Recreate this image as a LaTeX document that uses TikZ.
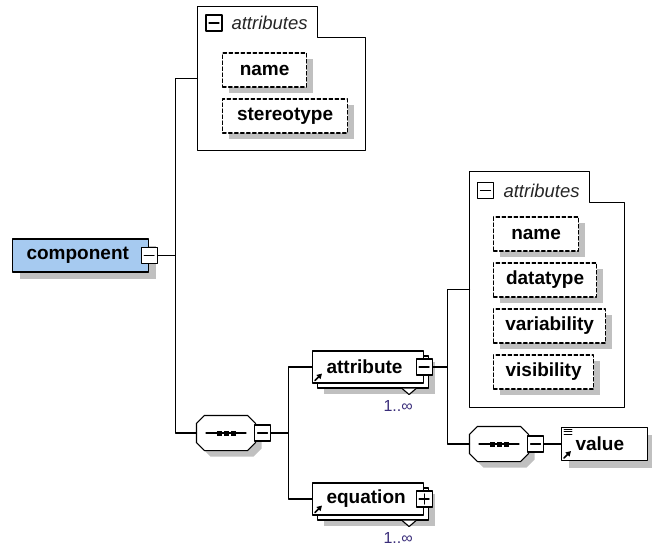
\documentclass[tikz,border=0pt]{standalone}
\usepackage{fontspec}
\setmainfont{Liberation Sans}
\usetikzlibrary{shadows,arrows.meta}
\definecolor{elemblue}{RGB}{166,202,240}
\definecolor{shade}{RGB}{192,192,192}
\definecolor{occur}{RGB}{58,45,122}

\begin{document}
\begin{tikzpicture}[x=1pt, y=-1pt, line cap=round, line join=round, line width=1.1pt,
    lbl/.style={font=\fontsize{19}{22}\selectfont\bfseries},
    elem/.style={lbl, draw, fill=white, anchor=west, minimum height=33pt, inner xsep=14pt, align=left,
      drop shadow={shadow xshift=7pt, shadow yshift=-7pt, fill=shade, opacity=1}},
    refelem/.style={lbl, draw, fill=white, anchor=west, minimum height=32pt, inner xsep=14pt, align=left,
      general shadow={shadow xshift=11pt, shadow yshift=-11pt, fill=shade, opacity=1},
      general shadow={shadow xshift=5pt, shadow yshift=-5pt, fill=white, draw=black, opacity=1}},
    att/.style={lbl, draw, line width=1.2pt, dash pattern=on 3.5pt off 2.5pt, fill=white, anchor=west, minimum height=34pt,
      drop shadow={shadow xshift=6pt, shadow yshift=-6pt, fill=shade, opacity=1}},
    seqbox/.style={minimum width=58pt, minimum height=34pt, inner sep=0pt},
    grp/.style={inner sep=0pt},
    togbox/.style={draw, fill=white, minimum size=16pt, inner sep=0pt},
    minus/.style={togbox, path picture={\draw ([xshift=3pt]path picture bounding box.west) -- ([xshift=-3pt]path picture bounding box.east);}},
    plus/.style={togbox, path picture={\draw ([xshift=3pt]path picture bounding box.west) -- ([xshift=-3pt]path picture bounding box.east)
      ([yshift=-3pt]path picture bounding box.north) -- ([yshift=3pt]path picture bounding box.south);}},
    head/.style={font=\fontsize{18.5}{22}\selectfont\itshape, text=black!85, anchor=west, inner sep=0pt},
    occ/.style={font=\fontsize{16}{18}\selectfont, text=occur, inner sep=0pt}]
  \useasboundingbox (0,0) rectangle (652,545);

  \node[elem, fill=elemblue, text width=108pt] (comp) at (12,255.5) {component};
  \node[minus] (compT) at (comp.east) {};

  \node[grp, minimum width=167pt, minimum height=143pt] (attrsA) at (281.5,78.5) {};
  \draw (attrsA.south west) -- (attrsA.north west) -- ++(120,0) -- ++(0,31) -| (attrsA.south east) -- cycle;
  \node[minus] (tabA) at (214,23) {};
  \node[head] (headA) at (231,23) {attributes};
  \node[att, minimum width=84pt] (nameA) at (222,70) {name};
  \node[att, minimum width=125pt] (stereo) at (222,116) {stereotype};

  \node[seqbox] (seqA) at (226,433) {};
  \node[refelem, text width=83pt] (attr) at (312,367) {attribute};
  \node[refelem, text width=83pt] (eqn) at (312,499) {equation};

  \node[grp, minimum width=154pt, minimum height=235pt] (attrsB) at (547,289.5) {};
  \draw (attrsB.south west) -- (attrsB.north west) -- ++(120,0) -- ++(0,31) -| (attrsB.south east) -- cycle;
  \node[minus] (tabB) at (485.5,190.5) {};
  \node[head] (headB) at (503,190.5) {attributes};
  \node[att, minimum width=85pt] (nameB) at (493,234) {name};
  \node[att, minimum width=103pt] (dtype) at (493,280) {datatype};
  \node[att, minimum width=112pt] (variab) at (493,326) {variability};
  \node[att, minimum width=100pt] (visib) at (493,372) {visibility};

  \node[seqbox] (seqB) at (499,444) {};
  \node[elem, text width=58pt] (value) at (561,444) {value};

  \foreach \s in {seqA,seqB} {
    \draw[fill=white, drop shadow={shadow xshift=6pt, shadow yshift=-6pt, fill=shade, opacity=1}]
      ([xshift=8pt]\s.north west) -- ([xshift=-8pt]\s.north east) -- ([yshift=-8pt]\s.north east)
      -- ([yshift=8pt]\s.south east) -- ([xshift=-8pt]\s.south east) -- ([xshift=8pt]\s.south west)
      -- ([yshift=8pt]\s.south west) -- ([yshift=-8pt]\s.north west) -- cycle;
    \draw ([xshift=-20pt]\s.center) -- ([xshift=20pt]\s.center);
    \foreach \d in {-7,0,7} \fill ([xshift=\d pt]\s.center) +(-2.5pt,-2.5pt) rectangle +(2.5pt,2.5pt);
  }
  \node[minus] (seqAT) at ([xshift=7pt]seqA.east) {};
  \node[minus] (seqBT) at ([xshift=7pt]seqB.east) {};
  \node[minus] (attrT) at (attr.east) {};
  \node[plus] (eqnT) at (eqn.east) {};

  \foreach \n/\m in {attr/multA, eqn/multB} {
    \draw[fill=white] ([shift={(-22pt,-5pt)}]\n.south east) -- ++(7,6) -- ++(7,-6);
    \node[occ] (\m) at ([shift={(-26pt,-22pt)}]\n.south east) {1..∞};
  }
  \foreach \n in {attr,eqn,value}
    \draw[-{Triangle[length=5pt,width=5.5pt]}, line width=1.6pt] ([shift={(3pt,3pt)}]\n.south west) -- ++(7,-7);
  \foreach \k in {2,4.5,7} \draw[line width=0.9pt] ([shift={(3pt,-\k pt)}]value.north west) -- ++(8,0);

  \draw (compT.east) -- ++(18,0) coordinate (jA) |- (attrsA.west);
  \draw (jA) |- (seqA.west);
  \draw (seqAT.east) -- ++(17,0) coordinate (jB) |- (attr.west);
  \draw (jB) |- (eqn.west);
  \draw (attrT.east) -- ++(15,0) coordinate (jC) |- (attrsB.west);
  \draw (jC) |- (seqB.west);
  \draw (seqBT) -- (value);
\end{tikzpicture}
\end{document}
